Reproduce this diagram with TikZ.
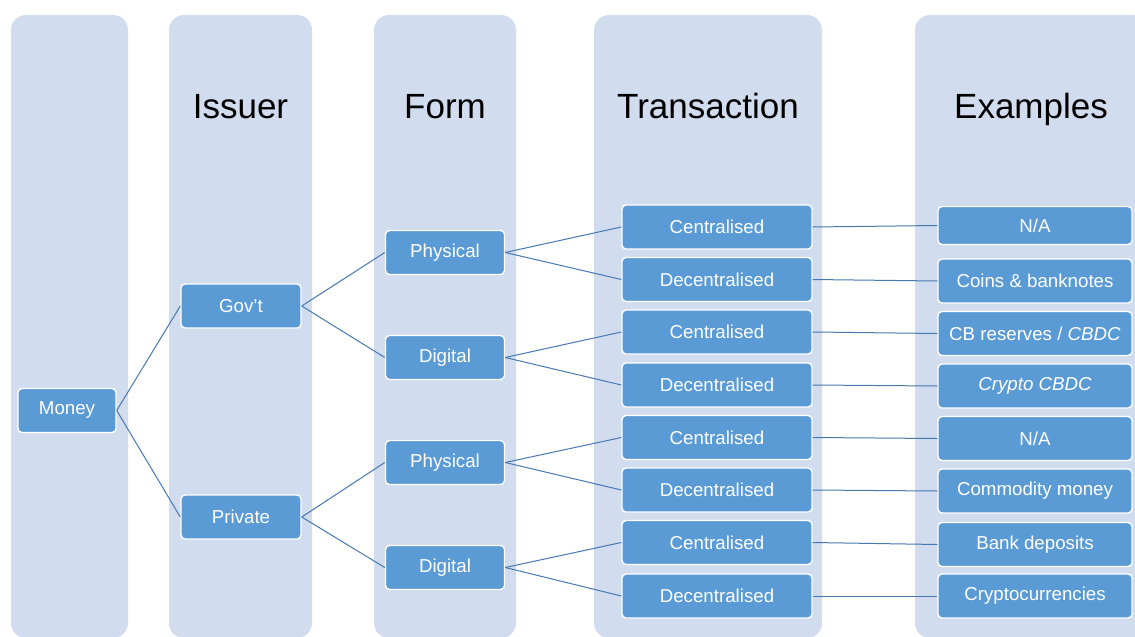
\documentclass[tikz,border=0pt]{standalone}
\usepackage{fontspec}
\setmainfont{Liberation Sans}
\usepackage{tikz}
\usetikzlibrary{positioning}
\definecolor{colbg}{RGB}{209,220,238}
\definecolor{boxblue}{RGB}{91,155,213}
\definecolor{linkblue}{RGB}{70,120,178}

\begin{document}
\begin{tikzpicture}[x=1pt, y=-1pt,
    colbg/.style={fill=colbg, rounded corners=15pt},
    head/.style={anchor=base, font=\fontsize{35}{40}\selectfont},
    box/.style={draw=white, line width=1.4pt, fill=boxblue, rounded corners=4pt,
        text=white, inner sep=0pt, minimum height=44pt,
        font=\fontsize{18.7}{20}\selectfont},
    link/.style={draw=linkblue, line width=1pt}]
    \useasboundingbox (0,0) rectangle (1135,637);
    \clip (0,0) rectangle (1135,637);
    \fill[colbg] (11,15) rectangle (128,638);
    \fill[colbg] (169,15) rectangle (312,638);
    \fill[colbg] (374,15) rectangle (516,638);
    \fill[colbg] (594,15) rectangle (822,638);
    \fill[colbg] (915,15) rectangle (1147,638);
    \node[head] (hiss) at (240.5,118) {Issuer};
    \node[head] (hform) at (445,118) {Form};
    \node[head] (htrans) at (708,118) {Transaction};
    \node[head] (hex) at (1031,118) {Examples};
    \node[box, minimum width=98pt] (money) at (67,410.5) {Money};
    \node[box, minimum width=120pt] (gov) at (241,306) {Gov’t};
    \node[box, minimum width=120pt] (priv) at (241,517) {Private};
    \node[box, minimum width=119pt] (phys1) at (445,252.5) {Physical};
    \node[box, minimum width=119pt] (dig1) at (445,357.5) {Digital};
    \node[box, minimum width=119pt] (phys2) at (445,462.5) {Physical};
    \node[box, minimum width=119pt] (dig2) at (445,567.5) {Digital};
    \node[box, minimum width=190pt] (cen1) at (717,227) {Centralised};
    \node[box, minimum width=190pt] (dec1) at (717,279.5) {Decentralised};
    \node[box, minimum width=190pt] (cen2) at (717,332) {Centralised};
    \node[box, minimum width=190pt] (dec2) at (717,385) {Decentralised};
    \node[box, minimum width=190pt] (cen3) at (717,437.5) {Centralised};
    \node[box, minimum width=190pt] (dec3) at (717,490) {Decentralised};
    \node[box, minimum width=190pt] (cen4) at (717,542.5) {Centralised};
    \node[box, minimum width=190pt] (dec4) at (717,596) {Decentralised};
    \node[box, minimum width=194pt, minimum height=38pt] (ex1) at (1035,225.5) {N/A};
    \node[box, minimum width=194pt] (ex2) at (1035,281) {Coins \& banknotes};
    \node[box, minimum width=194pt] (ex3) at (1035,333.5) {CB reserves / \textit{CBDC}};
    \node[box, minimum width=194pt] (ex4) at (1035,386) {\textit{Crypto CBDC}};
    \node[box, minimum width=194pt] (ex5) at (1035,438.5) {N/A};
    \node[box, minimum width=194pt] (ex6) at (1035,491) {Commodity money};
    \node[box, minimum width=194pt] (ex7) at (1035,544.5) {Bank deposits};
    \node[box, minimum width=194pt] (ex8) at (1035,596) {Cryptocurrencies};
    \draw[link] (money.east) -- (gov.west);
    \draw[link] (money.east) -- (priv.west);
    \draw[link] (gov.east) -- (phys1.west);
    \draw[link] (gov.east) -- (dig1.west);
    \draw[link] (priv.east) -- (phys2.west);
    \draw[link] (priv.east) -- (dig2.west);
    \draw[link] (phys1.east) -- (cen1.west);
    \draw[link] (phys1.east) -- (dec1.west);
    \draw[link] (dig1.east) -- (cen2.west);
    \draw[link] (dig1.east) -- (dec2.west);
    \draw[link] (phys2.east) -- (cen3.west);
    \draw[link] (phys2.east) -- (dec3.west);
    \draw[link] (dig2.east) -- (cen4.west);
    \draw[link] (dig2.east) -- (dec4.west);
    \draw[link] (cen1.east) -- (ex1.west);
    \draw[link] (dec1.east) -- (ex2.west);
    \draw[link] (cen2.east) -- (ex3.west);
    \draw[link] (dec2.east) -- (ex4.west);
    \draw[link] (cen3.east) -- (ex5.west);
    \draw[link] (dec3.east) -- (ex6.west);
    \draw[link] (cen4.east) -- (ex7.west);
    \draw[link] (dec4.east) -- (ex8.west);
\end{tikzpicture}
\end{document}
